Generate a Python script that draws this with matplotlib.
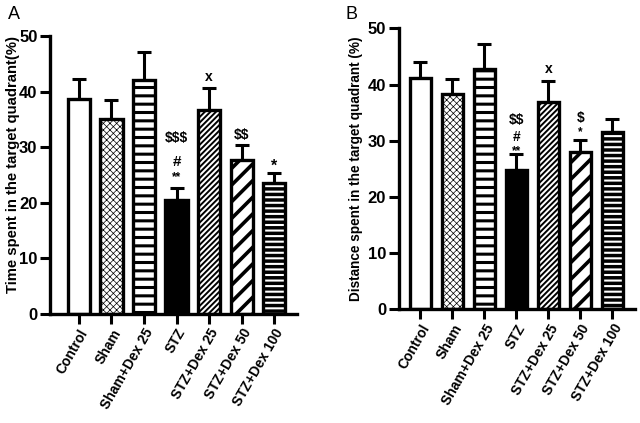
import matplotlib
matplotlib.use("Agg")
import matplotlib.pyplot as plt
import numpy as np

plt.rcParams['font.family'] = ['Liberation Sans', 'DejaVu Sans']

groups = ["Control", "Sham", "Sham+Dex 25", "STZ", "STZ+Dex 25", "STZ+Dex 50", "STZ+Dex 100"]
time_mean = [38.7, 35.1, 42.0, 20.4, 36.6, 27.7, 23.6]
time_err = [3.6, 3.4, 5.1, 2.3, 4.0, 2.6, 1.7]
dist_mean = [41.1, 38.4, 42.8, 24.8, 36.9, 28.0, 31.6]
dist_err = [2.9, 2.6, 4.5, 2.8, 3.8, 2.2, 2.3]

# significance marks: (bar index, label, y centre)
time_marks = [(3, "**", 24.6), (3, "#", 27.4), (3, "$$$", 31.7),
              (4, "x", 42.7), (5, "$$", 32.1), (6, "*", 26.6)]
dist_marks = [(3, "**", 28.2), (3, "#", 30.7), (3, "$$", 33.7),
              (4, "x", 42.8), (5, "*", 31.6), (5, "$", 34.1)]
time_mark_sizes = [8.5, 11, 10, 10, 10, 11.5]
dist_mark_sizes = [8.5, 10, 10, 10, 8.5, 10]

# (face, hatch colour, hatch, hatch linewidth)
styles = [
    ("white", "black", None, 1.0),
    ("white", "black", "xxxxx", 0.5),
    ("white", "black", "--", 2.2),
    ("black", "black", None, 1.0),
    ("white", "black", "//////", 1.4),
    ("white", "black", "//", 2.6),
    ("black", "white", "---", 1.5),
]

fig = plt.figure(figsize=(6.4, 4.23), dpi=100)
axA = fig.add_axes([0.078, 0.258, 0.386, 0.657])
axB = fig.add_axes([0.623, 0.269, 0.369, 0.664])


def draw(ax, means, errs, marks, sizes, ylabel, ylsize, ylpos, xlim):
    x = np.arange(len(groups))
    for i in range(len(groups)):
        face, hcol, hatch, hlw = styles[i]
        with plt.rc_context({'hatch.linewidth': hlw}):
            ax.bar(x[i], means[i], width=0.68, color=face, edgecolor=hcol,
                   linewidth=0, hatch=hatch, zorder=2)
        ax.bar(x[i], means[i], width=0.68, fill=False, edgecolor="black",
               linewidth=2.4, zorder=3)
    ax.errorbar(x, means, yerr=[np.zeros(len(errs)), errs], fmt="none",
                ecolor="black", elinewidth=2.2, capsize=5, capthick=2.2, zorder=1)
    for (i, lab, yc), fs in zip(marks, sizes):
        ax.text(x[i], yc, lab, ha="center", va="center",
                fontsize=fs, fontweight="bold", parse_math=False)
    ax.set_ylim(0, 50)
    ax.set_xlim(*xlim)
    ax.set_yticks([0, 10, 20, 30, 40, 50])
    ax.set_xticks(x)
    ax.set_xticklabels(groups, rotation=60, ha="right", rotation_mode="anchor",
                       fontsize=10, fontweight="bold")
    for t in ax.get_yticklabels():
        t.set_fontsize(12)
        t.set_fontweight("bold")
    ax.set_ylabel(ylabel, fontsize=ylsize, fontweight="bold")
    ax.yaxis.set_label_coords(*ylpos)
    for s in ["top", "right"]:
        ax.spines[s].set_visible(False)
    for s in ["left", "bottom"]:
        ax.spines[s].set_linewidth(2.4)
    ax.tick_params(axis="both", width=2.2, length=7, pad=2)


draw(axA, time_mean, time_err, time_marks, time_mark_sizes,
     "Time spent in the target quadrant(%)", 10.7, (-0.122, 0.538), (-0.89, 6.7))
draw(axB, dist_mean, dist_err, dist_marks, dist_mark_sizes,
     "Distance spent in the target quadrant (%)", 9.8, (-0.153, 0.501), (-0.68, 6.7))

fig.text(0.012, 0.965, "A", fontsize=13, va="center")
fig.text(0.540, 0.965, "B", fontsize=13, va="center")

fig.savefig("out.png", dpi=100)
